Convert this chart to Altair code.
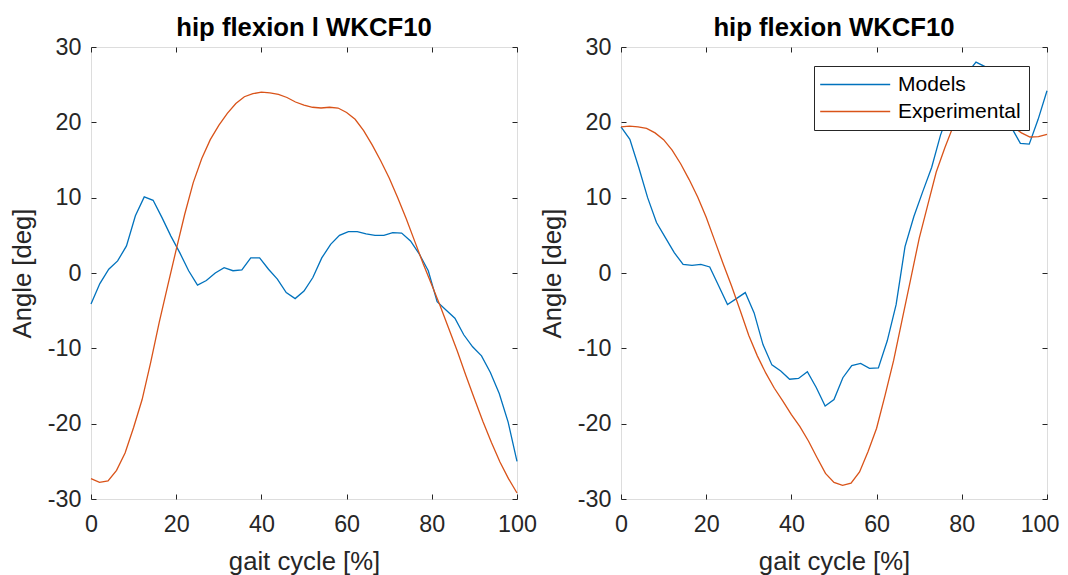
import altair as alt
import pandas as pd

FONT = "Liberation Sans"
INK = "#262626"
SERIES = ["Models", "Experimental"]
COLORS = ["#0072BD", "#D95319"]
XTICKS = [0, 20, 40, 60, 80, 100]
YTICKS = [-30, -20, -10, 0, 10, 20, 30]

# sample positions of the model curves (gait cycle %)
model_x = [0, 2.08, 4.17, 6.25, 8.33, 10.42, 12.5, 14.58, 16.67, 18.75, 20.83,
           22.92, 25, 27.08, 29.17, 31.25, 33.33, 35.42, 37.5, 39.58, 41.67,
           43.75, 45.83, 47.92, 50, 52.08, 54.17, 56.25, 58.33, 60.42, 62.5,
           64.58, 66.67, 68.75, 70.83, 72.92, 75, 77.08, 79.17, 81.25, 83.33,
           85.42, 87.5, 89.58, 91.67, 93.75, 95.83, 97.92, 100]
# sample positions of the experimental curves
exp_x = [0, 2, 4, 6, 8, 10, 12, 14, 16, 18, 20, 22, 24, 26, 28, 30, 32, 34, 36,
         38, 40, 42, 44, 46, 48, 50, 52, 54, 56, 58, 60, 62, 64, 66, 68, 70, 72,
         74, 76, 78, 80, 82, 84, 86, 88, 90, 92, 94, 96, 98, 100]

left_models = [-4.1, -1.4, 0.5, 1.6, 3.6, 7.6, 10.1, 9.65, 7.35, 4.9, 2.7, 0.3,
               -1.6, -1.0, 0.0, 0.7, 0.3, 0.4, 2.0, 2.0, 0.5, -0.8, -2.6, -3.4,
               -2.4, -0.6, 2.0, 3.8, 5.0, 5.5, 5.5, 5.2, 5.0, 5.0, 5.35, 5.3,
               4.25, 2.5, 0.3, -3.8, -4.9, -6.0, -8.2, -9.8, -11.0, -13.2,
               -16.0, -19.8, -25.0]
left_exp = [-27.3, -27.8, -27.6, -26.2, -23.9, -20.5, -16.8, -11.9, -6.6, -1.7,
            3.1, 7.8, 12.0, 15.2, 17.7, 19.6, 21.2, 22.5, 23.4, 23.8, 24.0,
            23.9, 23.7, 23.3, 22.7, 22.3, 22.0, 21.9, 22.0, 21.9, 21.3, 20.4,
            18.9, 17.0, 14.9, 12.6, 10.0, 7.2, 4.2, 1.2, -1.6, -4.4, -7.4,
            -10.4, -13.6, -16.7, -19.7, -22.5, -25.1, -27.3, -29.2]

right_models = [19.4, 17.75, 14.0, 10.0, 6.7, 4.7, 2.7, 1.15, 1.0, 1.15, 0.8,
                -1.7, -4.2, -3.4, -2.6, -5.3, -9.5, -12.2, -13.0, -14.1, -14.0,
                -13.1, -15.2, -17.65, -16.8, -13.9, -12.3, -12.0, -12.65, -12.6,
                -9.0, -4.2, 3.5, 7.5, 10.8, 14.0, 18.3, 21.5, 24.3, 26.5, 28.0,
                27.4, 24.5, 21.5, 19.3, 17.2, 17.1, 20.4, 24.2]
right_exp = [19.4, 19.5, 19.4, 19.2, 18.6, 17.7, 16.3, 14.5, 12.4, 10.1, 7.4,
             4.3, 1.2, -1.8, -5.0, -8.3, -11.0, -13.3, -15.3, -17.0, -18.8,
             -20.4, -22.3, -24.5, -26.6, -27.8, -28.2, -27.9, -26.4, -23.7,
             -20.6, -16.2, -11.6, -6.2, -0.8, 4.6, 9.0, 13.4, 16.6, 19.5, 20.8,
             21.5, 21.8, 21.6, 21.0, 20.2, 19.4, 18.6, 18.05, 18.1, 18.4]

TITLES = ["hip flexion l WKCF10", "hip flexion WKCF10"]


def panel(title, my, ey, is_right):
    df = pd.concat([
        pd.DataFrame({"x": model_x, "y": my, "series": "Models"}),
        pd.DataFrame({"x": exp_x, "y": ey, "series": "Experimental"}),
    ], ignore_index=True)
    xscale = alt.Scale(domain=[0, 100], nice=False, zero=False)
    yscale = alt.Scale(domain=[-30, 30], nice=False, zero=False)
    if is_right:
        legend = alt.Legend(
            title=None, orient="none", legendX=193, legendY=19,
            fillColor="white", strokeColor=INK, padding=8, cornerRadius=0,
            symbolType="M-5,0H5", symbolSize=196, symbolStrokeWidth=1.3,
            symbolOffset=22.7, labelOffset=32.4,
            labelFontSize=21, labelFont=FONT, labelColor="black",
            rowPadding=5, symbolOpacity=1,
        )
        # keep the right-most "100" label inside the page
        x_align = alt.condition("datum.value === 100", alt.value("right"), alt.value("center"))
        x_loff = alt.condition("datum.value === 100", alt.value(12), alt.value(0))
    else:
        legend = None
        x_align = "center"
        x_loff = 0
    main = alt.Chart(df).mark_line(strokeWidth=1.3).encode(
        x=alt.X("x:Q", scale=xscale, axis=alt.Axis(
            orient="bottom", values=XTICKS, title="gait cycle [%]", offset=-5,
            tickSize=5, domain=False, grid=False, labelPadding=14,
            titlePadding=14.5, labelFontSize=23.3, titleFontSize=25.7,
            labelExpr="'' + datum.value", labelAlign=x_align, labelOffset=x_loff,
            labelFont=FONT, titleFont=FONT, titleFontWeight="normal",
            labelColor=INK, titleColor=INK, tickColor=INK, labelFlush=False)),
        y=alt.Y("y:Q", scale=yscale, axis=alt.Axis(
            orient="left", values=YTICKS, title="Angle [deg]", offset=-5,
            tickSize=5, domain=False, grid=False, labelPadding=10,
            titlePadding=11.5, labelFontSize=23.3, titleFontSize=25.7,
            labelExpr="'' + datum.value",
            labelFont=FONT, titleFont=FONT, titleFontWeight="normal",
            labelColor=INK, titleColor=INK, tickColor=INK, labelFlush=False)),
        color=alt.Color("series:N", scale=alt.Scale(domain=SERIES, range=COLORS),
                        legend=legend),
        order=alt.Order("x:Q"),
    )
    ghost = alt.Chart(df).mark_line(opacity=0).encode(
        x=alt.X("x:Q", scale=xscale, axis=alt.Axis(
            orient="top", values=XTICKS, title=None, labels=False, offset=-5,
            tickSize=5, domain=False, grid=False, tickColor=INK,
            labelPadding=0, minExtent=0, maxExtent=0)),
        y=alt.Y("y:Q", scale=yscale, axis=alt.Axis(
            orient="right", values=YTICKS, title=None, labels=False, offset=-5,
            tickSize=5, domain=False, grid=False, tickColor=INK,
            labelPadding=0, minExtent=0, maxExtent=0)),
        detail="series:N",
    )
    return alt.layer(main, ghost).resolve_axis(
        x="independent", y="independent"
    ).properties(
        width=426, height=452,
        title=alt.Title(title, fontSize=25.7, font=FONT, fontWeight="bold",
                        color="black", offset=-7),
    )


left = panel(TITLES[0], left_models, left_exp, False)
right = panel(TITLES[1], right_models, right_exp, True)

chart = alt.hconcat(left, right, spacing=104, bounds="flush").resolve_scale(
    color="independent"
).properties(
    padding={"left": 1, "top": 6, "right": 0, "bottom": 0}
).configure_view(stroke=INK, strokeWidth=1).configure(background="white")

chart.save("out.html", embed_options={"renderer": "svg", "actions": False})
